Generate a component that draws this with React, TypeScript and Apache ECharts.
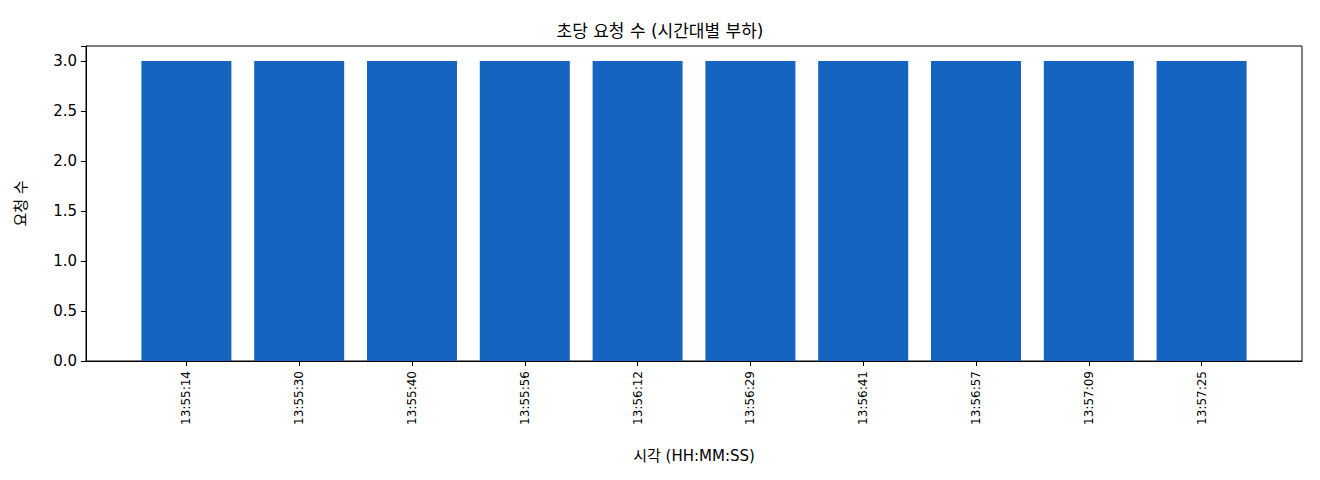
import React, { useEffect, useRef } from "react";
import * as echarts from "echarts";

const categories = [
  "13:55:14", "13:55:30", "13:55:40", "13:55:56", "13:56:12",
  "13:56:29", "13:56:41", "13:56:57", "13:57:09", "13:57:25",
];
const requestCounts = [3, 3, 3, 3, 3, 3, 3, 3, 3, 3];
const titleText = "초당 요청 수 (시간대별 부하)";
const xAxisName = "시각 (HH:MM:SS)";
const yAxisName = "요청 수";

const FONT = "'DejaVu Sans', 'Noto Sans CJK KR', sans-serif";

export default function App() {
  const ref = useRef<HTMLDivElement>(null);
  useEffect(() => {
    if (!ref.current) return;
    const chart = echarts.init(ref.current, undefined, { renderer: "svg" });
    const idx = categories.map((_, i) => i);
    chart.setOption({
      animation: false,
      backgroundColor: "#ffffff",
      textStyle: { fontFamily: FONT },
      title: {
        text: titleText,
        left: "center",
        top: 17,
        textStyle: { fontFamily: FONT, fontSize: 17, fontWeight: "normal", color: "#000" },
      },
      grid: {
        left: 86,
        right: 18,
        top: 46,
        bottom: 119,
        show: true,
        borderColor: "#000",
        borderWidth: 1,
        containLabel: false,
      },
      xAxis: {
        type: "value",
        min: -0.89,
        max: 9.89,
        name: xAxisName,
        nameLocation: "middle",
        nameGap: 87,
        nameTextStyle: { fontFamily: FONT, fontSize: 15, color: "#000" },
        axisLine: { show: true, onZero: false, lineStyle: { color: "#000", width: 1 } },
        axisTick: {
          show: true,
          customValues: idx,
          length: 5,
          inside: false,
          lineStyle: { color: "#000" },
        },
        axisLabel: {
          customValues: idx,
          rotate: 90,
          fontSize: 12,
          margin: 10,
          color: "#000",
          fontFamily: FONT,
          formatter: (v: number) => categories[Math.round(v)] ?? "",
        },
        splitLine: { show: false },
      },
      yAxis: {
        type: "value",
        min: 0,
        max: 3.15,
        interval: 0.5,
        name: yAxisName,
        nameLocation: "middle",
        nameGap: 58,
        nameTextStyle: { fontFamily: FONT, fontSize: 15, color: "#000" },
        axisLine: { show: true, onZero: false, lineStyle: { color: "#000", width: 1 } },
        axisTick: { show: true, length: 5, lineStyle: { color: "#000" } },
        axisLabel: {
          fontSize: 15,
          color: "#000",
          margin: 9,
          fontFamily: FONT,
          formatter: (v: number) => (v > 3.1 ? "" : v.toFixed(1)),
        },
        splitLine: { show: false },
      },
      series: [
        {
          type: "bar",
          data: requestCounts.map((v, i) => [i, v]),
          barWidth: 90,
          itemStyle: { color: "#1565C0" },
        },
      ],
    });
    return () => chart.dispose();
  }, []);
  return (
    <div
      ref={ref}
      style={{ position: "fixed", left: 0, top: 0, width: 1320, height: 480 }}
    />
  );
}
